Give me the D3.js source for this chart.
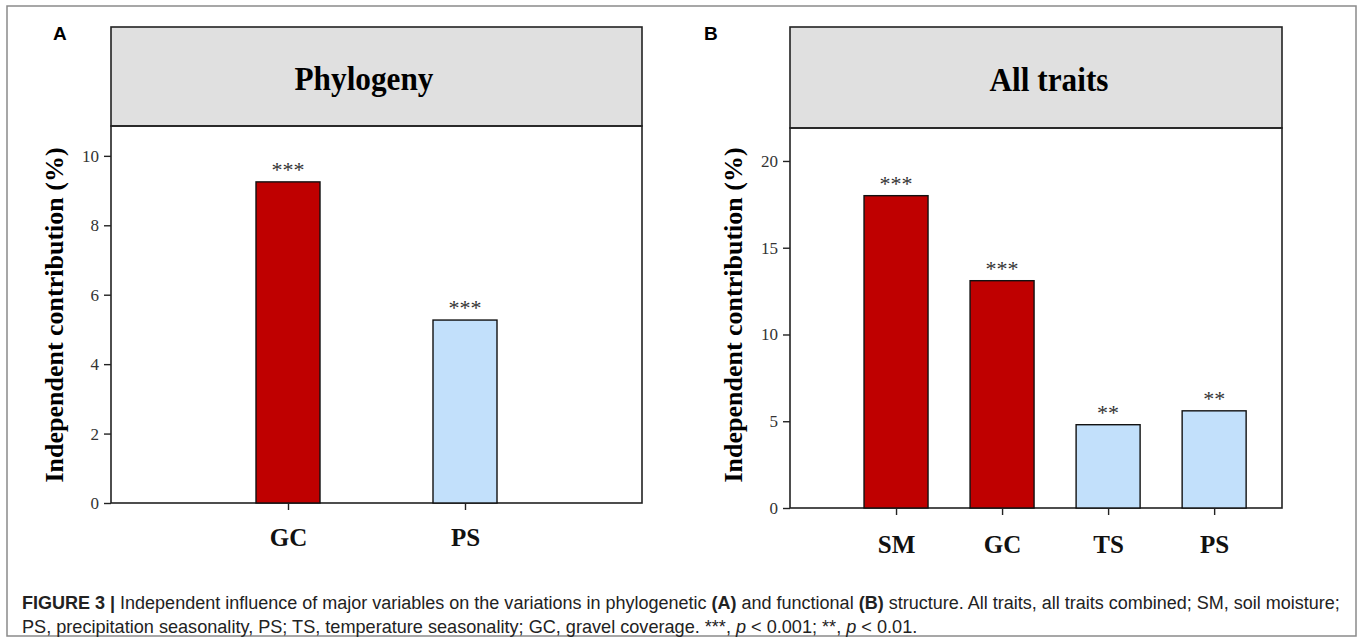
<!DOCTYPE html>
<html>
<head>
<meta charset="utf-8">
<script src="https://cdn.jsdelivr.net/npm/d3@7"></script>
<style>
  html, body { margin: 0; padding: 0; background: #fff; }
  svg { display: block; }
</style>
</head>
<body>
<svg id="fig" width="1360" height="641"></svg>
<script>
// Panel A: phylogenetic structure
const phyloCategories = ["GC", "PS"];
const phyloValues = [9.25, 5.27];
const phyloStars = ["***", "***"];
const phyloTicks = [0, 2, 4, 6, 8, 10];

// Panel B: functional structure (all traits)
const traitCategories = ["SM", "GC", "TS", "PS"];
const traitValues = [18.0, 13.1, 4.8, 5.6];
const traitStars = ["***", "***", "**", "**"];
const traitTicks = [0, 5, 10, 15, 20];

// Fill by variable group: soil/gravel variables dark red, climate seasonality pale blue
const barColors = { SM: "#bf0000", GC: "#bf0000", TS: "#c2e0fb", PS: "#c2e0fb" };

const captionLine1 = [
  { t: "FIGURE 3 | ", b: true },
  { t: "Independent influence of major variables on the variations in phylogenetic " },
  { t: "(A)", b: true },
  { t: " and functional " },
  { t: "(B)", b: true },
  { t: " structure. All traits, all traits combined; SM, soil moisture;" }
];
const captionLine2 = [
  { t: "PS, precipitation seasonality, PS; TS, temperature seasonality; GC, gravel coverage. ***, " },
  { t: "p", i: true },
  { t: " < 0.001; **, " },
  { t: "p", i: true },
  { t: " < 0.01." }
];

const svg = d3.select("#fig");
const serif = "'Liberation Serif', 'Times New Roman', serif";
const sans = "'Liberation Sans', Arial, sans-serif";

// outer frame
svg.append("rect")
  .attr("x", 7).attr("y", 6).attr("width", 1349).attr("height", 630)
  .attr("fill", "none").attr("stroke", "#8a8a8a").attr("stroke-width", 1.5);

function panel(opts) {
  const g = svg.append("g");
  const { left, right, headTop, plotTop, bottom, xMax, yMax } = opts;

  const x = d3.scaleLinear().domain([0, xMax]).range([left, right]);
  const y = d3.scaleLinear().domain([0, yMax]).range([bottom, plotTop]);

  // panel letter
  g.append("text").attr("x", opts.letterX).attr("y", 40)
    .attr("font-family", sans).attr("font-weight", "bold").attr("font-size", 19)
    .text(opts.letter);

  // header strip
  g.append("rect")
    .attr("x", left).attr("y", headTop)
    .attr("width", right - left).attr("height", plotTop - headTop)
    .attr("fill", "#e0e0e0").attr("stroke", "#222").attr("stroke-width", 1.6);
  g.append("text")
    .attr("transform", `translate(${opts.titleX},${(headTop + plotTop) / 2 + 13}) scale(0.92,1)`)
    .attr("text-anchor", "middle")
    .attr("font-family", serif).attr("font-weight", "bold").attr("font-size", 34)
    .text(opts.title);

  // plot frame
  g.append("rect")
    .attr("x", left).attr("y", plotTop)
    .attr("width", right - left).attr("height", bottom - plotTop)
    .attr("fill", "none").attr("stroke", "#222").attr("stroke-width", 1.6);

  // bars
  const idx = opts.categories.map((c, i) => i + 1);
  g.selectAll("rect.bar").data(opts.values).enter().append("rect")
    .attr("class", "bar")
    .attr("x", (d, i) => x(idx[i]) - opts.barW / 2)
    .attr("y", d => y(d))
    .attr("width", opts.barW)
    .attr("height", d => y(0) - y(d))
    .attr("fill", (d, i) => barColors[opts.categories[i]])
    .attr("stroke", "#111").attr("stroke-width", 1.4);

  // significance stars
  g.selectAll("text.star").data(opts.values).enter().append("text")
    .attr("class", "star")
    .attr("x", (d, i) => x(idx[i]))
    .attr("y", d => y(d) - 5)
    .attr("text-anchor", "middle")
    .attr("font-family", serif).attr("font-size", 22).attr("fill", "#333")
    .text((d, i) => opts.stars[i]);

  // y axis
  const yAxis = d3.axisLeft(y).tickValues(opts.ticks).tickSize(7).tickPadding(5)
    .tickFormat(d3.format("d"));
  const ya = g.append("g").attr("transform", `translate(${left},0)`).call(yAxis);
  ya.select(".domain").remove();
  ya.selectAll(".tick line").attr("stroke", "#222").attr("stroke-width", 1.4);
  ya.selectAll(".tick text").attr("font-family", serif).attr("font-size", 17).attr("fill", "#333");

  // x axis
  const xAxis = d3.axisBottom(x).tickValues(idx).tickSize(7).tickPadding(opts.xPad)
    .tickFormat((d) => opts.categories[d - 1]);
  const xa = g.append("g").attr("transform", `translate(0,${bottom})`).call(xAxis);
  xa.select(".domain").remove();
  xa.selectAll(".tick line").attr("stroke", "#222").attr("stroke-width", 1.4);
  xa.selectAll(".tick text").attr("font-family", serif).attr("font-weight", "bold")
    .attr("font-size", 25).attr("fill", "#111");

  // y axis title
  g.append("text")
    .attr("transform", `translate(${opts.yTitleX},${opts.yTitleY}) rotate(-90)`)
    .attr("text-anchor", "middle")
    .attr("font-family", serif).attr("font-weight", "bold").attr("font-size", 26)
    .text("Independent contribution (%)");
}

panel({
  letter: "A", letterX: 53, title: "Phylogeny", titleX: 364,
  left: 111, right: 642, headTop: 27, plotTop: 126, bottom: 503,
  xMax: 3, yMax: 10.86, barW: 64, yTitleX: 63, yTitleY: 315, xPad: 18,
  categories: phyloCategories, values: phyloValues, stars: phyloStars, ticks: phyloTicks
});

panel({
  letter: "B", letterX: 704, title: "All traits", titleX: 1049,
  left: 790, right: 1282, headTop: 27, plotTop: 128, bottom: 508,
  xMax: 4.64, yMax: 21.9, barW: 64, yTitleX: 742, yTitleY: 315, xPad: 20,
  categories: traitCategories, values: traitValues, stars: traitStars, ticks: traitTicks
});

// caption
function captionLine(parts, yPos, targetW) {
  const t = svg.append("text").attr("x", 0).attr("y", 0)
    .attr("font-family", sans).attr("font-size", 18).attr("fill", "#222");
  parts.forEach(p => {
    t.append("tspan")
      .attr("font-weight", p.b ? "bold" : null)
      .attr("font-style", p.i ? "italic" : null)
      .text(p.t);
  });
  const w = t.node().getComputedTextLength();
  const s = targetW / w;
  t.attr("transform", `translate(22,${yPos}) scale(${s},1)`);
}
captionLine(captionLine1, 609, 1318);
captionLine(captionLine2, 633, 896);
</script>
</body>
</html>
